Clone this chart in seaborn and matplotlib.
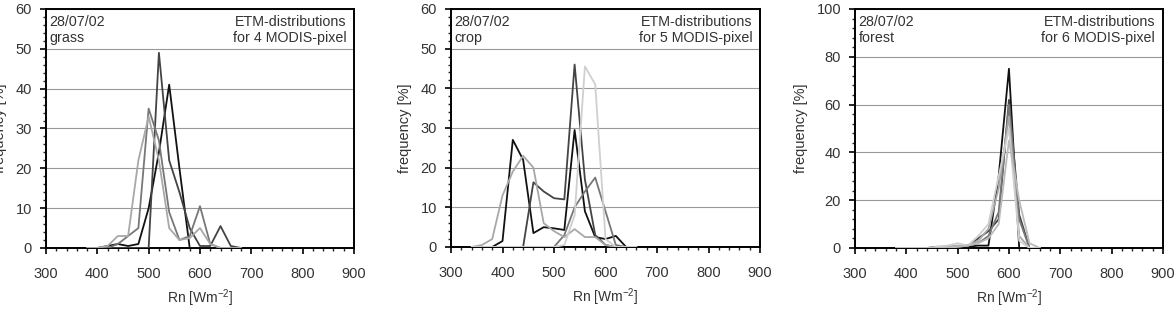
import matplotlib
matplotlib.use("Agg")
import matplotlib.pyplot as plt
import seaborn as sns
import pandas as pd
from matplotlib.ticker import MultipleLocator

# bin centres of Rn [W m-2]
GRASS_X = [380, 400, 420, 440, 460, 480, 500, 520, 540, 560, 580, 600, 620, 640, 660, 680]
GRASS = [
    [0, 0, 0.5, 1, 0.5, 1, 10, 24, 41, 20, 0, 0, 0, 0, 0, 0],
    [0, 0, 0, 0, 0, 0, 0, 49, 22, 14, 5, 0.5, 0.5, 5.5, 0.5, 0],
    [0, 0, 0, 1, 3, 5, 35, 27, 9, 2, 3, 10.5, 1, 0, 0, 0],
    [0, 0, 0.5, 3, 3, 22, 33, 22, 5, 2, 2.5, 5, 1, 0, 0, 0],
]

CROP_X = [340, 360, 380, 400, 420, 440, 460, 480, 500, 520, 540, 560, 580, 600, 620, 640, 660]
CROP = [
    [0, 0, 0, 1.5, 27, 22, 3.5, 5, 4.7, 4.3, 29.5, 9, 2.5, 2, 2.8, 0, 0],
    [0, 0, 0, 0, 0, 0, 16.3, 14, 12.3, 12, 46, 17, 3, 0.5, 0, 0, 0],
    [0, 0, 0, 0, 0, 0, 0, 0, 0, 3, 10, 14, 17.5, 9, 0.5, 0, 0],
    [0, 0.5, 2, 13, 19, 23, 20, 6, 4, 2.5, 4.5, 2.5, 2.5, 0.5, 0, 0, 0],
    [0, 0, 0, 0, 0, 0, 0, 0, 0, 0.5, 8, 45.5, 41, 2, 0, 0, 0],
]

FOREST_X = [380, 400, 420, 440, 460, 480, 500, 520, 540, 560, 580, 600, 620, 640, 660]
FOREST = [
    [0, 0, 0, 0, 0.5, 0.5, 0.5, 0.5, 1, 1, 30, 75, 0, 0, 0],
    [0, 0, 0, 0, 0, 0.5, 0.5, 1, 4, 7, 12, 62, 14, 0, 0],
    [0, 0, 0, 0, 0, 0, 0.5, 1, 2, 5, 15, 60, 12, 0, 0],
    [0, 0, 0, 0, 0, 0.5, 1, 1, 3, 8, 25, 55, 5, 0, 0],
    [0, 0, 0, 0, 0.5, 1, 2, 1, 5, 10, 30, 50, 3, 0, 0],
    [0, 0, 0, 0, 0, 0, 0.5, 1, 2, 4, 10, 45, 20, 2, 0],
]

SHADES = ["#111111", "#444444", "#777777", "#a8a8a8", "#cfcfcf", "#bbbbbb"]

PANELS = [
    ("grass", "4", GRASS_X, GRASS, 60, 10, 2),
    ("crop", "5", CROP_X, CROP, 60, 10, 2),
    ("forest", "6", FOREST_X, FOREST, 100, 20, 4),
]

AX_POS = [
    [0.0391, 0.2026, 0.2619, 0.7685],
    [0.3835, 0.2058, 0.2628, 0.7653],
    [0.7270, 0.2026, 0.2619, 0.7685],
]

TXT = "#333333"


def to_frame(xs, series):
    rows = []
    for i, vals in enumerate(series):
        for x, v in zip(xs, vals):
            rows.append({"Rn": x, "freq": v, "pixel": i})
    return pd.DataFrame(rows)


def draw_panel(ax, name, npix, xs, series, ymax, ymaj, ymin):
    df = to_frame(xs, series)
    pal = {i: SHADES[i] for i in range(len(series))}
    sns.lineplot(data=df, x="Rn", y="freq", hue="pixel", palette=pal,
                 linewidth=1.3, legend=False, ax=ax, zorder=3)
    ax.set_xlim(300, 900)
    ax.set_ylim(0, ymax)
    ax.xaxis.set_major_locator(MultipleLocator(100))
    ax.xaxis.set_minor_locator(MultipleLocator(20))
    ax.yaxis.set_major_locator(MultipleLocator(ymaj))
    ax.yaxis.set_minor_locator(MultipleLocator(ymin))
    ax.grid(axis="y", which="major", color="#999999", linewidth=0.8)
    ax.set_axisbelow(True)
    for sp in ax.spines.values():
        sp.set_visible(True)
        sp.set_linewidth(1.4)
        sp.set_color("black")
    ax.tick_params(which="major", direction="out", length=4, width=1.2,
                   labelsize=10.5, colors="black", labelcolor=TXT)
    ax.tick_params(axis="x", which="major", pad=10)
    ax.tick_params(axis="y", which="major", pad=6)
    ax.tick_params(which="minor", direction="out", length=2.5, width=1)
    ax.set_xlabel("Rn [Wm$^{-2}$]", fontsize=10, color=TXT, labelpad=4)
    ax.set_ylabel("frequency [%]", fontsize=10.5, color=TXT, labelpad=6)
    ax.text(0.012, 0.975, "28/07/02\n" + name, transform=ax.transAxes,
            ha="left", va="top", fontsize=10.3, color=TXT, linespacing=1.15)
    ax.text(0.975, 0.975, "ETM-distributions\nfor " + npix + " MODIS-pixel",
            transform=ax.transAxes, ha="right", va="top", fontsize=10.3,
            color=TXT, linespacing=1.15, multialignment="right")


def main():
    sns.set_style("ticks")
    plt.rcParams["font.family"] = ["Liberation Sans", "DejaVu Sans"]
    plt.rcParams["mathtext.default"] = "regular"
    fig = plt.figure(figsize=(11.76, 3.11), dpi=100)
    for pos, panel in zip(AX_POS, PANELS):
        ax = fig.add_axes(pos)
        draw_panel(ax, *panel)
    fig.savefig("out.png", dpi=100, facecolor="white")


if __name__ == "__main__":
    main()
